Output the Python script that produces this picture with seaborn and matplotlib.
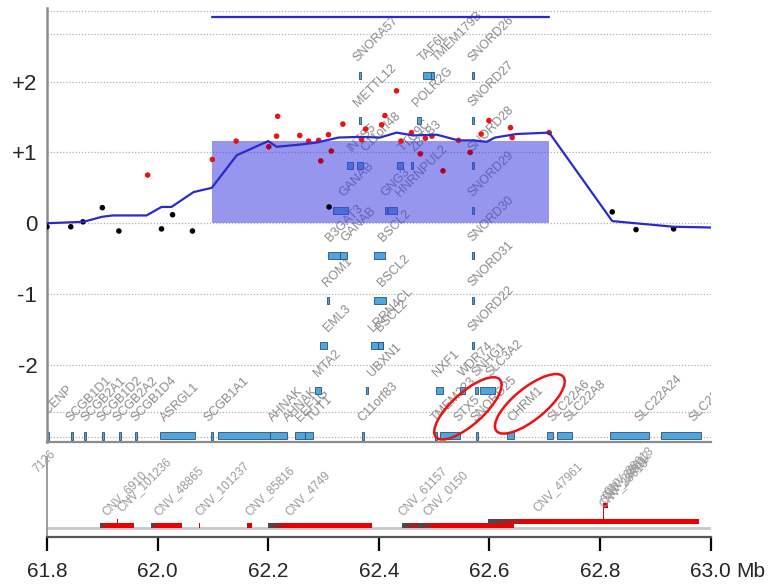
import numpy as np
import pandas as pd
import matplotlib
matplotlib.use('Agg')
import matplotlib.pyplot as plt
import seaborn as sns
from matplotlib.patches import Rectangle, Ellipse
from matplotlib.transforms import ScaledTranslation
from matplotlib.colors import LinearSegmentedColormap

# segmentation line (Mb, log ratio)
seg_pos = [61.800, 61.866, 61.899, 61.919, 61.980, 62.007, 62.025, 62.065, 62.098, 62.143,
           62.200, 62.215, 62.257, 62.288, 62.327, 62.366, 62.402, 62.432, 62.462, 62.505,
           62.544, 62.571, 62.595, 62.610, 62.649, 62.708, 62.822, 62.933, 63.000]
seg_val = [0.00, 0.02, 0.09, 0.11, 0.11, 0.23, 0.23, 0.44, 0.50, 0.96,
           1.16, 1.08, 1.11, 1.14, 1.21, 1.22, 1.21, 1.28, 1.24, 1.25,
           1.17, 1.17, 1.15, 1.21, 1.26, 1.28, 0.03, -0.05, -0.06]

# probes
probe_pos = [61.800, 61.843, 61.865, 61.900, 61.930, 62.007, 62.027, 62.063, 62.310, 62.822,
             62.865, 62.933,
             61.982, 62.099, 62.142, 62.201, 62.217, 62.215, 62.257, 62.273, 62.291, 62.309,
             62.295, 62.314, 62.335, 62.369, 62.376, 62.405, 62.411, 62.432, 62.440, 62.459,
             62.484, 62.496, 62.475, 62.516, 62.544, 62.565, 62.585, 62.599, 62.638, 62.641,
             62.708]
probe_val = [-0.05, -0.05, 0.02, 0.22, -0.11, -0.08, 0.12, -0.11, 0.23, 0.16,
             -0.09, -0.08,
             0.68, 0.90, 1.16, 1.08, 1.51, 1.23, 1.24, 1.16, 1.17, 1.25,
             0.88, 1.02, 1.40, 1.18, 1.33, 1.39, 1.52, 1.87, 1.16, 1.28,
             1.20, 1.23, 0.98, 0.74, 1.17, 1.00, 1.26, 1.45, 1.35, 1.21,
             1.28]

# called gain region
gain_start, gain_end, gain_level = 62.098, 62.708, 1.16

# genes: name, start, end, track row, label position
gene_name = ['INCENP', 'SCGB1D1', 'SCGB2A1', 'SCGB1D2', 'SCGB2A2', 'SCGB1D4', 'ASRGL1', 'SCGB1A1',
             'AHNAK', 'AHNAK', 'EEF1G', 'TUT1', 'C11orf83', 'TMEM223', 'STX5', 'SNORD25', 'CHRM1',
             'SLC22A6', 'SLC22A8', 'SLC22A24', 'SLC22A25',
             'MTA2', 'UBXN1', 'NXF1', 'WDR74', 'SNHG1', 'SLC3A2',
             'EML3', 'LRRN4CL', 'BSCL2', 'SNORD22',
             'ROM1', 'BSCL2', 'SNORD31',
             'B3GAT3', 'GANAB', 'BSCL2', 'SNORD30',
             'GANAB', 'GNG3', 'HNRNPUL2', 'SNORD29',
             'INTS5', 'C11orf48', 'TTC9C', 'ZBTB3', 'SNORD28',
             'METTL12', 'POLR2G', 'SNORD27',
             'SNORA57', 'TAF6L', 'TMEM179B', 'SNORD26']
gene_start = [61.800, 61.844, 61.866, 61.900, 61.931, 61.960, 62.004, 62.096,
              62.109, 62.203, 62.248, 62.267, 62.370, 62.502, 62.511, 62.575, 62.632,
              62.704, 62.722, 62.818, 62.910,
              62.285, 62.377, 62.503, 62.547, 62.574, 62.582,
              62.294, 62.386, 62.398, 62.569,
              62.307, 62.391, 62.569,
              62.308, 62.330, 62.391, 62.569,
              62.317, 62.412, 62.417, 62.569,
              62.342, 62.361, 62.433, 62.458, 62.569,
              62.364, 62.469, 62.569,
              62.364, 62.480, 62.495, 62.569]
gene_end = [61.803, 61.847, 61.870, 61.903, 61.934, 61.963, 62.068, 62.099,
            62.203, 62.234, 62.267, 62.281, 62.373, 62.504, 62.547, 62.578, 62.645,
            62.715, 62.749, 62.889, 62.983,
            62.296, 62.380, 62.516, 62.556, 62.580, 62.610,
            62.306, 62.408, 62.408, 62.572,
            62.310, 62.413, 62.572,
            62.330, 62.342, 62.411, 62.572,
            62.344, 62.415, 62.433, 62.572,
            62.353, 62.371, 62.444, 62.461, 62.572,
            62.367, 62.476, 62.572,
            62.367, 62.498, 62.499, 62.572]
gene_row = [0] * 21 + [1] * 6 + [2] * 4 + [3] * 3 + [4] * 4 + [5] * 4 + [6] * 5 + [7] * 3 + [8] * 4
gene_lab = [61.787, 61.842, 61.869, 61.899, 61.928, 61.959, 62.013, 62.091,
            62.209, 62.236, 62.257, 62.276, 62.371, 62.502, 62.543, 62.574, 62.641,
            62.713, 62.742, 62.872, 62.968,
            62.290, 62.388, 62.505, 62.552, 62.576, 62.601,
            62.308, 62.390, 62.402, 62.570,
            62.306, 62.406, 62.570,
            62.312, 62.339, 62.408, 62.570,
            62.335, 62.411, 62.438, 62.570,
            62.352, 62.375, 62.444, 62.465, 62.570,
            62.362, 62.469, 62.570,
            62.362, 62.480, 62.505, 62.570]

# CNVs: name, start, end, row, label position
cnv_name = ['CNV_6910', 'CNV_101236', 'CNV_48865', 'CNV_101237', 'CNV_85816', 'CNV_4749',
            'CNV_61157', 'CNV_0150', 'CNV_47961',
            'CNV_28610', 'CNV_28611', 'CNV_28612', 'CNV_28613']
cnv_start = [61.896, 61.926, 61.988, 62.075, 62.162, 62.200,
             62.442, 62.470, 62.597,
             62.805, 62.805, 62.805, 62.806]
cnv_end = [61.957, 61.928, 62.044, 62.077, 62.171, 62.388,
           62.643, 62.643, 62.977,
           62.807, 62.807, 62.807, 62.814]
cnv_row = [0, 1, 0, 0, 0, 0, 0, 0, 1, 2, 3, 4, 5]
cnv_lab = [61.907, 61.934, 62.002, 62.076, 62.166, 62.239,
           62.442, 62.487, 62.687,
           62.805, 62.808, 62.811, 62.814]

xticks = [61.8, 62.0, 62.2, 62.4, 62.6, 62.8, 63.0]
xticklabels = ['61.8', '62.0', '62.2', '62.4', '62.6', '62.8', '63.0']
ygrid = [-3.02, -2.67, -2.0, -1.0, 0.0, 1.0, 2.0, 2.67, 3.0]
ygrid_labels = ['', '', '-2', '-1', '0', '+1', '+2', '', '']

sns.set_style('white')
plt.rcParams['font.family'] = ['Liberation Sans', 'DejaVu Sans']

probes = pd.DataFrame({'pos': probe_pos, 'val': probe_val})
inside = (probes['pos'] > gain_start + 0.01) & (probes['pos'] < gain_end) & (probes['val'] < gain_level - 0.02)
probes['call'] = np.where(probes['val'] < 0.5, 'normal', np.where(inside, 'gain_in', 'gain'))
seg = pd.DataFrame({'pos': seg_pos, 'val': seg_val})

fig = plt.figure(figsize=(7.72, 5.85), dpi=100)
ax = fig.add_axes([47 / 772, 1 - 442 / 585, 663.7 / 772, 434 / 585])
ax2 = fig.add_axes([47 / 772, 1 - 537 / 585, 663.7 / 772, 80 / 585])

# ---- top panel: genes, probes, segmentation ----
lab_col = '#8a8a8a'
for name, s, e, r, lx in zip(gene_name, gene_start, gene_end, gene_row, gene_lab):
    lvl = -3.0 + 0.636 * r
    h = 0.09 if e - s > 0.004 else 0.11
    ax.add_patch(Rectangle((s, lvl - h / 2), max(e - s, 0.0035), h, facecolor='#4ea6df',
                           edgecolor='#2e4f72', lw=0.6, zorder=2))
    ax.text(lx, lvl + 0.19, name, rotation=45, rotation_mode='anchor', ha='left', va='baseline',
            fontsize=9, color=lab_col, clip_on=True, zorder=2)

ax.add_patch(Rectangle((gain_start, 0), gain_end - gain_start, gain_level, facecolor='#4040e0',
                       alpha=0.55, lw=0, zorder=3))
ax.plot([gain_start, gain_end], [2.91, 2.91], color='#2a2ad0', lw=1.6, zorder=5)

sns.scatterplot(data=probes, x='pos', y='val', hue='call', ax=ax, s=16, linewidth=0,
                palette={'normal': 'black', 'gain': '#ee1111', 'gain_in': '#b0001c'},
                legend=False, zorder=4)
sns.lineplot(data=seg, x='pos', y='val', ax=ax, color='#2a2ad0', lw=1.6, zorder=5)

for gy in ygrid:
    ax.axhline(gy, color='#b0b0b0', lw=0.9, ls=(0, (1, 1.5)), zorder=1)

ax.set_xlim(61.8, 63.0)
ax.set_ylim(-3.09, 3.04)
ax.set_yticks(ygrid)
ax.set_yticklabels(ygrid_labels, fontsize=16)
ax.set_xticks([])
ax.set_xlabel('')
ax.set_ylabel('')
ax.tick_params(axis='y', length=0, pad=7)
for side in ['top', 'right']:
    ax.spines[side].set_visible(False)
ax.spines['left'].set_color('#8c8c8c')
ax.spines['left'].set_linewidth(1.8)
ax.spines['bottom'].set_color('#8c8c8c')
ax.spines['bottom'].set_linewidth(1.6)

# red ellipses around STX5 and CHRM1
for cx, cy, ang in [(62.561, -2.615, 42), (62.673, -2.551, 39)]:
    ell = Ellipse((0, 0), 0.86, 0.32, angle=ang, fill=False, edgecolor='#ee1111', lw=1.8,
                  transform=fig.dpi_scale_trans + ScaledTranslation(cx, cy, ax.transData), zorder=6)
    ax.add_patch(ell)

# ---- bottom panel: CNVs ----
cnv_cmap = LinearSegmentedColormap.from_list('cnv', ['#4a4a4a', '#e80000', '#ee0000'])
grad = np.clip(np.linspace(0, 1, 60) / 0.35, 0, 1).reshape(1, -1)
ax2.axhline(1.1, color='#c8c8c8', lw=2, zorder=1)
for name, s, e, r, lx in zip(cnv_name, cnv_start, cnv_end, cnv_row, cnv_lab):
    lvl = 1.4 + 0.5 * r
    w = max(e - s, 0.002)
    if w > 0.01:
        ax2.imshow(grad, extent=[s, s + w, lvl - 0.3, lvl + 0.3], aspect='auto', cmap=cnv_cmap,
                   vmin=0, vmax=1, interpolation='bilinear', zorder=2)
    else:
        ax2.add_patch(Rectangle((s, lvl - 0.3), w, 0.6, facecolor='#e00000', lw=0, zorder=2))
    ax2.text(lx, lvl + 1.2, name, rotation=45, rotation_mode='anchor', ha='left', va='baseline',
             fontsize=8.5, color='#9a9a9a', clip_on=False, zorder=3)
ax2.text(61.782, 8.0, '7126', rotation=45, rotation_mode='anchor', ha='left', va='baseline',
         fontsize=8.5, color='#9a9a9a', clip_on=False)

ax2.set_xlim(61.8, 63.0)
ax2.set_ylim(0, 10)
ax2.set_yticks([])
ax2.set_xticks(xticks)
ax2.set_xticklabels(xticklabels, fontsize=15)
ax2.tick_params(axis='x', direction='out', length=10, width=1.6, color='black', pad=8, bottom=True)
for side in ['top', 'right']:
    ax2.spines[side].set_visible(False)
ax2.spines['left'].set_color('#8c8c8c')
ax2.spines['left'].set_linewidth(1.2)
ax2.spines['bottom'].set_color('#555555')
ax2.spines['bottom'].set_linewidth(1.6)

# unit after the last tick label, on the same baseline
fig.canvas.draw()
last_lab = ax2.get_xticklabels()[-1]
ax2.annotate('Mb', xy=(1, 0), xycoords=last_lab, xytext=(4, 0), textcoords='offset points',
             ha='left', va='bottom', fontsize=15, annotation_clip=False)

plt.savefig('out.png', dpi=100)
